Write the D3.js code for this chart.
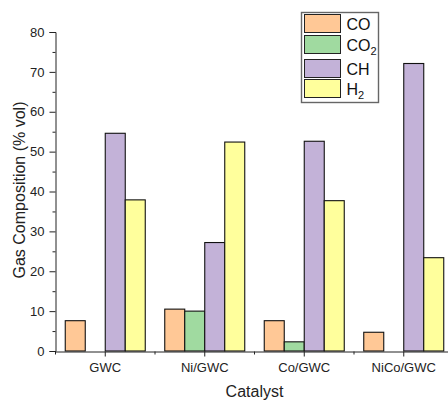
<!DOCTYPE html>
<html>
<head>
<meta charset="utf-8">
<script src="https://cdn.jsdelivr.net/npm/d3@7/dist/d3.min.js"></script>
<style>
  body { margin: 0; background: #fff; }
  svg { display: block; font-family: "Liberation Sans", Arial, sans-serif; }
</style>
</head>
<body>
<svg id="chart" width="448" height="402"></svg>
<script>
// chart data
const catalysts = ["GWC", "Ni/GWC", "Co/GWC", "NiCo/GWC"];
const gases = ["CO", "CO2", "CH", "H2"];
const coValues = [7.6, 10.5, 7.6, 4.7];
const co2Values = [0, 10.0, 2.3, 0];
const chValues = [54.6, 27.2, 52.6, 72.1];
const h2Values = [37.9, 52.4, 37.7, 23.4];
const yTicks = [0, 10, 20, 30, 40, 50, 60, 70, 80];
const gasColors = ["#ffc896", "#a0daa0", "#c3b2d8", "#ffff9c"];

const seriesByGas = { CO: coValues, CO2: co2Values, CH: chValues, H2: h2Values };

const rows = [];
catalysts.forEach((cat, i) => {
    gases.forEach(g => rows.push({ cat: cat, gas: g, value: seriesByGas[g][i] }));
});

const svg = d3.select("#chart");

const x0 = d3.scaleBand().domain(catalysts).range([55.5, 453.5]).paddingInner(0).paddingOuter(0);
const groupPad = (x0.bandwidth() - 80) / 2;
const x1 = d3.scaleBand().domain(gases).range([groupPad, groupPad + 80]).padding(0);
const y = d3.scaleLinear().domain([0, 80]).range([351, 32]);
const color = d3.scaleOrdinal().domain(gases).range(gasColors);

// bars
svg.append("g").selectAll("rect")
    .data(rows.filter(d => d.value > 0))
    .join("rect")
    .attr("x", d => x0(d.cat) + x1(d.gas))
    .attr("y", d => y(d.value))
    .attr("width", x1.bandwidth())
    .attr("height", d => y(0) - y(d.value))
    .attr("fill", d => color(d.gas))
    .attr("stroke", "#111")
    .attr("stroke-width", 1.1);

// y axis
const yAxis = svg.append("g").attr("transform", "translate(55.5,0)");
yAxis.call(d3.axisLeft(y).tickValues(yTicks).tickSize(6).tickPadding(5).tickFormat(d3.format("d")));
yAxis.append("g").selectAll("line")
    .data(yTicks.slice(0, -1).map(v => v + 5))
    .join("line")
    .attr("x1", -3).attr("x2", 0)
    .attr("y1", d => y(d) + 0.5).attr("y2", d => y(d) + 0.5)
    .attr("stroke", "#222");

// x axis
const xAxis = svg.append("g").attr("transform", "translate(0,351.5)");
xAxis.call(d3.axisBottom(x0).tickSize(5).tickPadding(6).tickSizeOuter(0));
xAxis.append("g").selectAll("line")
    .data(catalysts)
    .join("line")
    .attr("x1", d => x0(d)).attr("x2", d => x0(d))
    .attr("y1", 0).attr("y2", 3)
    .attr("stroke", "#222");

svg.selectAll(".domain, .tick line").attr("stroke", "#222");
svg.selectAll(".tick text").attr("fill", "#222").style("font-size", "13px").style("font-family", "'Liberation Sans', Arial, sans-serif");

// axis titles
svg.append("text")
    .attr("x", 254.5).attr("y", 397)
    .attr("text-anchor", "middle")
    .attr("fill", "#222")
    .style("font-size", "16px")
    .text("Catalyst");

svg.append("text")
    .attr("transform", "translate(25,190) rotate(-90)")
    .attr("text-anchor", "middle")
    .attr("fill", "#222")
    .style("font-size", "16px")
    .text("Gas Composition (% vol)");

// legend
const legendTop = [14, 35, 59, 79];
const legend = svg.append("g");
legend.append("rect")
    .attr("x", 301.5).attr("y", 12.5)
    .attr("width", 77).attr("height", 90)
    .attr("fill", "#fff")
    .attr("stroke", "#666")
    .attr("stroke-width", 1.4);

const item = legend.selectAll("g.item")
    .data(gases)
    .join("g")
    .attr("class", "item")
    .attr("transform", (d, i) => `translate(304.5,${legendTop[i] + 0.5})`);

item.append("rect")
    .attr("width", 36).attr("height", 18)
    .attr("fill", d => color(d))
    .attr("stroke", "#222")
    .attr("stroke-width", 1);

const label = item.append("text")
    .attr("x", 42).attr("y", 15)
    .attr("fill", "#111")
    .style("font-size", "16px");

label.each(function(d) {
    const t = d3.select(this);
    const m = d.match(/^([A-Z]+)(\d*)$/);
    t.append("tspan").text(m[1]);
    if (m[2]) {
        t.append("tspan").attr("dy", 4).style("font-size", "11px").text(m[2]);
    }
});
</script>
</body>
</html>
